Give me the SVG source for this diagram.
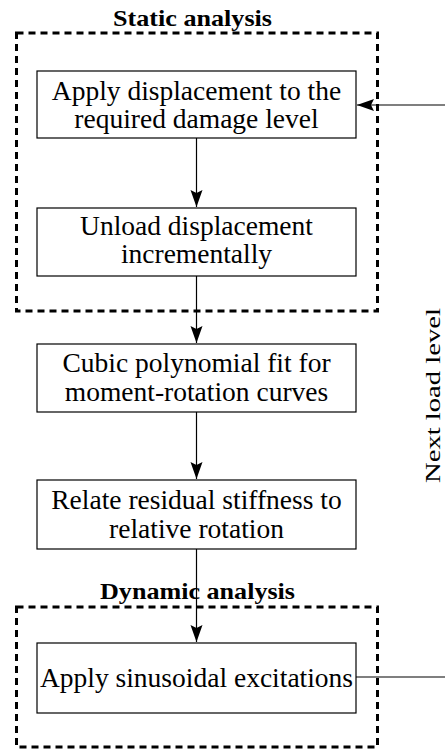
<svg xmlns="http://www.w3.org/2000/svg" width="445" height="750" viewBox="0 0 445 750">
<style>
.box{fill:#fff;stroke:#000;stroke-width:1.2}
.grp{fill:none;stroke:#000;stroke-width:3;stroke-dasharray:7 5}
.t{font-family:"Liberation Serif","Times New Roman",serif;font-size:27.5px;fill:#000;text-anchor:middle}
.title{font-family:"Liberation Serif","Times New Roman",serif;font-size:22.5px;font-weight:bold;fill:#000}
.c{fill:none;stroke:#000;stroke-width:1.2}
</style>
<defs>
<marker id="ah" markerUnits="userSpaceOnUse" markerWidth="18" markerHeight="13" refX="17" refY="6" orient="auto">
<path d="M0,0 L17,6 L0,12 L3,6 z" fill="#000"/>
</marker>
</defs>
<g id="static-group">
<rect class="grp" x="16.5" y="33" width="361" height="278"/>
<text class="title" x="113" y="26" textLength="159" lengthAdjust="spacingAndGlyphs">Static analysis</text>
</g>
<g id="dynamic-group">
<rect class="grp" x="16.5" y="607" width="361" height="140"/>
<text class="title" x="100" y="599" textLength="195" lengthAdjust="spacingAndGlyphs">Dynamic analysis</text>
</g>
<g id="n1">
<rect class="box" x="37" y="71" width="319" height="67"/>
<text class="t" x="196.5" y="100">Apply displacement to the</text>
<text class="t" x="196.5" y="128">required damage level</text>
</g>
<g id="n2">
<rect class="box" x="37" y="208" width="319" height="68"/>
<text class="t" x="196.5" y="235">Unload displacement</text>
<text class="t" x="196.5" y="263">incrementally</text>
</g>
<g id="n3">
<rect class="box" x="37" y="344" width="319" height="68"/>
<text class="t" x="196.5" y="372">Cubic polynomial fit for</text>
<text class="t" x="196.5" y="401">moment-rotation curves</text>
</g>
<g id="n4">
<rect class="box" x="37" y="480" width="319" height="69"/>
<text class="t" x="196.5" y="509">Relate residual stiffness to</text>
<text class="t" x="196.5" y="538">relative rotation</text>
</g>
<g id="n5">
<rect class="box" x="37" y="643" width="319" height="70"/>
<text class="t" x="196.5" y="687">Apply sinusoidal excitations</text>
</g>
<g id="connectors">
<path class="c" d="M196.5,138 V207" marker-end="url(#ah)"/>
<path class="c" d="M196.5,276 V343" marker-end="url(#ah)"/>
<path class="c" d="M196.5,412 V479" marker-end="url(#ah)"/>
<path class="c" d="M196.5,549 V642" marker-end="url(#ah)"/>
<path class="c" d="M356,677 H455 V105 H357" marker-end="url(#ah)"/>
<text class="t" style="font-size:21px" textLength="175" lengthAdjust="spacingAndGlyphs" transform="translate(440,395.5) rotate(-90)">Next load level</text>
</g>
</svg>
